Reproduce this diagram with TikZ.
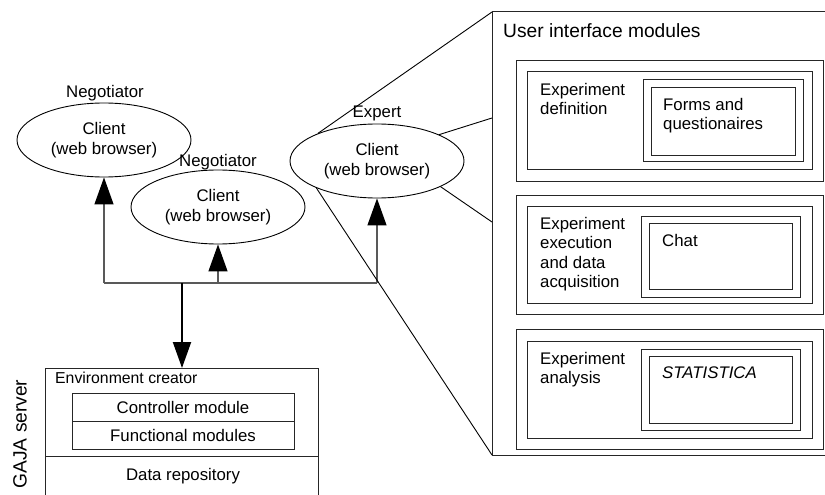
\documentclass[tikz,border=0pt]{standalone}
\usepackage{fontspec}
\setmainfont{Liberation Sans}
\usetikzlibrary{arrows.meta,shapes.geometric}
\begin{document}
\begin{tikzpicture}[x=1pt,y=-1pt,
  txt/.style={font=\fontsize{16.8}{19.5}\selectfont, inner sep=0pt},
  client/.style={ellipse, draw=black, line width=0.9pt, minimum width=174pt, minimum height=74pt, inner sep=0pt, align=center, font=\fontsize{16.8}{19.5}\selectfont},
  conn/.style={draw=black!65, line width=1.3pt},
  tip/.style={-{Triangle[width=19pt,length=27pt,color=black,fill=black]}},
  box/.style={draw=black!85, line width=1pt},
  mbox/.style={draw=black!85, line width=1pt, inner sep=0pt},
  callout/.style={draw=black, line width=0.9pt},
  lbl/.style={txt, anchor=north west, align=left}]
\useasboundingbox (0,0) rectangle (825,495);
\fill[white] (0,0) rectangle (825,495);

% clients
\node[client] (e1) at (104,140) {Client\\(web browser)};
\node[client] (e2) at (218,207) {Client\\(web browser)};
\node[client] (e3) at (377,161) {Client\\(web browser)};
\node[txt] (n1) at (105,93) {Negotiator};
\node[txt] (n2) at (218,162) {Negotiator};
\node[txt] (n3) at (377,113) {Expert};

% connectors
\coordinate (jl) at (104,283);
\coordinate (jr) at (377,283);
\coordinate (jm) at (218,283);
\coordinate (js) at (182,283);
\coordinate (gtop) at (182,368);
\draw[conn] (jl) -- (jr);
\draw[conn,tip] (jl) -- (e1.south);
\draw[conn,tip] (jm) -- (e2.south);
\draw[conn,tip] (jr) -- (e3.south);
\draw[draw=black, line width=2pt, -{Triangle[width=18pt,length=26pt]}] (js) -- (gtop);

% GAJA server
\draw[box] (45,497) -- (45,368) -- (318,368) -- (318,497);
\draw[box] (45,456) -- (318,456);
\node[txt, font=\fontsize{15.8}{18}\selectfont, anchor=north west] (env) at (55,372) {Environment creator};
\node[mbox, minimum width=222pt, minimum height=28pt] (ctrl) at (183,407) {};
\node[mbox, minimum width=222pt, minimum height=28pt] (func) at (183,435) {};
\node[txt] at (ctrl.center) {Controller module};
\node[txt] at (func.center) {Functional modules};
\node[txt] (data) at (183,476) {Data repository};
\node[txt, font=\fontsize{19.2}{22}\selectfont, rotate=90] (gaja) at (20,434) {GAJA server};

% right panel
\coordinate (uitl) at (492,12);
\coordinate (uibl) at (492,455);
\draw[box] (830,12) -- (uitl) -- (uibl) -- (830,455);
\node[txt, font=\fontsize{19.2}{22}\selectfont, anchor=north west] (uit) at (503,23) {User interface modules};

% callout lines
\coordinate (m1l) at (492,118);
\coordinate (m2l) at (492,222);
\draw[callout] (e3.155) -- (uitl);
\draw[callout] (e3.204) -- (uibl);
\draw[callout] (e3.23) -- (m1l);
\draw[callout] (e3.-22) -- (m2l);

% module 1
\draw[box] (516,61) rectangle (823,181);
\draw[box] (527,72) rectangle (812,169);
\draw[box] (643,80) rectangle (803,161);
\draw[box] (651,88) rectangle (795,155);
\node[lbl] (m1t) at (540,83) {Experiment\\definition};
\node[lbl] (m1s) at (663,98) {Forms and\\questionaires};

% module 2
\draw[box] (516,195) rectangle (823,314);
\draw[box] (527,206) rectangle (812,303);
\draw[box] (641,216) rectangle (800,297);
\draw[box] (649,223) rectangle (792,289);
\node[lbl] (m2t) at (540,217) {Experiment\\execution\\and data\\acquisition};
\node[lbl] (m2s) at (662,234) {Chat};

% module 3
\draw[box] (516,329) rectangle (823,449);
\draw[box] (527,341) rectangle (812,438);
\draw[box] (641,349) rectangle (800,430);
\draw[box] (649,356) rectangle (792,423);
\node[lbl] (m3t) at (540,352) {Experiment\\analysis};
\node[lbl, font=\fontsize{16.8}{19.5}\selectfont\itshape] (m3s) at (662,367) {STATISTICA};
\end{tikzpicture}
\end{document}
